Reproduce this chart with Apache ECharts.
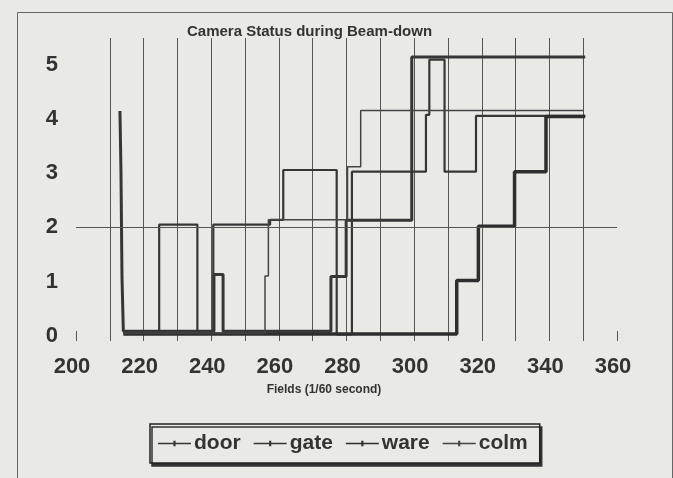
<!DOCTYPE html>
<html>
<head>
<meta charset="utf-8">
<script src="https://cdn.jsdelivr.net/npm/echarts@6/dist/echarts.min.js"></script>
<style>
  html, body { margin: 0; padding: 0; background: #e9e9e6; }
  #chart { width: 673px; height: 478px; }
</style>
</head>
<body>
<div id="chart"></div>
<script>
// step points: field number where the status changes, and the new status
const doorX = [213, 213.3, 213.6, 214, 240.8, 243.5, 275.4, 279.9, 299.3, 350.6]
const doorY = [4.15, 3.03, 1.08, 0.08, 1.13, 0.08, 1.09, 2.13, 5.15, 5.15]
const gateX = [214, 224.6, 235.9, 240.6, 257.4, 261.3, 277.1, 281.6, 303.5, 304.5, 309, 318.3, 350.6]
const gateY = [0.05, 2.05, 0.05, 2.05, 2.14, 3.06, 0.02, 3.03, 4.08, 5.1, 3.03, 4.06, 4.06]
const wareX = [214, 312.6, 319, 329.7, 339, 350.6]
const wareY = [0.03, 1.02, 2.02, 3.03, 4.05, 4.05]
const colmX = [214, 255.9, 256.9, 280.3, 284.2, 350.1]
const colmY = [0.05, 1.1, 2.14, 3.12, 4.16, 4.16]
const refLevel = 2
const xLabels = [200, 220, 240, 260, 280, 300, 320, 340, 360]
const yLabels = [0, 1, 2, 3, 4, 5]

const pairs = (xs, ys) => xs.map((x, i) => [x, ys[i]])
const ink = '#363636'
const font = 'Liberation Sans, Arial, sans-serif'
const legendIcon = 'path://M0,4.4h30v1.2h-30z M14,2.5h2v5h-2z'

const chart = echarts.init(document.getElementById('chart'))
chart.setOption({
  backgroundColor: '#e9e9e6',
  animation: false,
  title: {
    text: 'Camera Status during Beam-down',
    left: 182, top: 19,
    textStyle: { fontFamily: font, fontSize: 15, fontWeight: 'bold', color: '#333' }
  },
  graphic: [{
    type: 'rect', left: 15, top: 10,
    shape: { width: 655, height: 480 },
    style: { fill: 'none', stroke: '#666', lineWidth: 1 }
  }],
  grid: { left: 76, right: 56, top: 38, bottom: 137 },
  legend: {
    left: 150, top: 424,
    padding: [9, 12, 9, 8],
    itemGap: 13, itemWidth: 33, itemHeight: 10,
    icon: legendIcon,
    borderColor: '#222', borderWidth: 1.5,
    backgroundColor: '#e9e9e6',
    shadowColor: '#333', shadowOffsetX: 2, shadowOffsetY: 3, shadowBlur: 0,
    textStyle: { fontFamily: font, fontSize: 21, fontWeight: 'bold', color: '#333', padding: [0, 0, 0, -2] },
    data: ['door', 'gate', 'ware', 'colm']
  },
  xAxis: [{
    type: 'value', min: 200, max: 360, interval: 10,
    name: 'Fields (1/60 second)', nameLocation: 'middle', nameGap: 43,
    nameTextStyle: { fontFamily: font, fontSize: 12, fontWeight: 'bold', color: '#333', padding: [0, 45, 0, 0] },
    axisLine: { show: false },
    axisTick: { show: false },
    axisLabel: { customValues: xLabels, showMinLabel: true, showMaxLabel: true, margin: 15,
      fontFamily: font, fontSize: 22, fontWeight: 'bold', color: '#333', padding: [0, 8, 0, 0] },
    splitLine: { show: true, showMinLine: false, showMaxLine: false, lineStyle: { color: '#555', width: 1 } }
  }, {
    type: 'value', min: 200, max: 360, position: 'bottom',
    axisLine: { show: false },
    axisLabel: { show: false },
    splitLine: { show: false },
    axisTick: { show: true, inside: true, length: 10, customValues: [200, 360], lineStyle: { color: '#555' } }
  }],
  yAxis: {
    type: 'value', min: -0.1, max: 5.5,
    axisLine: { show: false },
    axisTick: { show: false },
    splitLine: { show: false },
    axisLabel: { customValues: yLabels, margin: 18, fontFamily: font, fontSize: 22, fontWeight: 'bold', color: '#333' }
  },
  series: [
    { name: 'door', type: 'line', step: 'end', data: pairs(doorX, doorY), showSymbol: false,
      lineStyle: { color: ink, width: 3 }, itemStyle: { color: ink } },
    { name: 'gate', type: 'line', step: 'end', data: pairs(gateX, gateY), showSymbol: false,
      lineStyle: { color: ink, width: 2.2 }, itemStyle: { color: ink } },
    { name: 'ware', type: 'line', step: 'end', data: pairs(wareX, wareY), showSymbol: false,
      lineStyle: { color: '#2e2e2e', width: 3.5 }, itemStyle: { color: '#2e2e2e' } },
    { name: 'colm', type: 'line', step: 'end', data: pairs(colmX, colmY), showSymbol: false,
      lineStyle: { color: '#444', width: 1.5 }, itemStyle: { color: '#444' },
      markLine: { silent: true, symbol: 'none', label: { show: false },
        lineStyle: { color: '#555', width: 1, type: 'solid' }, data: [{ yAxis: refLevel }] } }
  ]
})
</script>
</body>
</html>
